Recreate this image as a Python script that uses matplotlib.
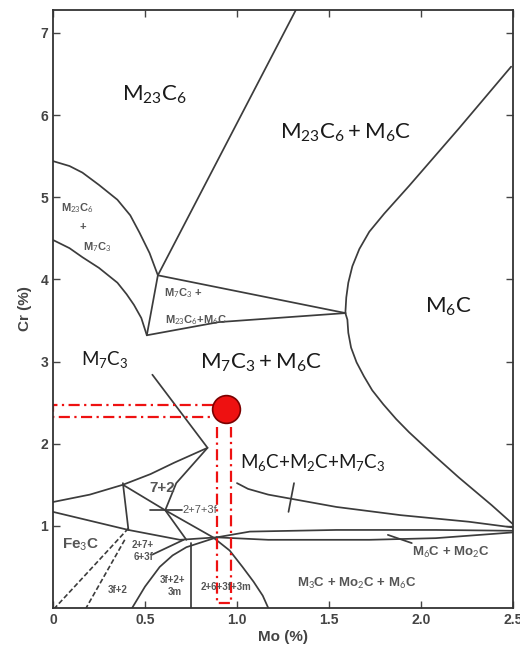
import numpy as np
import matplotlib.pyplot as plt

plt.rcParams['mathtext.fontset'] = 'custom'
plt.rcParams['mathtext.rm'] = 'Lato'
plt.rcParams['mathtext.it'] = 'Lato'

# phase boundaries, Mo (%) vs Cr (%)
a_mo = [0, 0.09, 0.16, 0.25, 0.35, 0.42, 0.47, 0.525, 0.57]
a_cr = [5.44, 5.38, 5.30, 5.15, 4.97, 4.78, 4.57, 4.32, 4.05]
b_mo = [0, 0.09, 0.16, 0.25, 0.35, 0.40, 0.44, 0.48, 0.51]
b_cr = [4.48, 4.38, 4.27, 4.14, 3.96, 3.82, 3.69, 3.53, 3.32]
c_mo = [0.51, 0.57, 1.32]
c_cr = [3.32, 4.05, 7.28]
d_mo = [0.57, 1.59]
d_cr = [4.05, 3.59]
e_mo = [0.51, 0.90, 1.59]
e_cr = [3.32, 3.48, 3.59]
m6c_mo = [2.49, 2.207, 1.936, 1.80, 1.719, 1.665, 1.627, 1.605, 1.594, 1.589,
          1.60, 1.605, 1.62, 1.65, 1.69, 1.735, 1.795, 1.865, 1.935, 2.07, 2.205, 2.385, 2.5]
m6c_cr = [6.59, 5.84, 5.14, 4.80, 4.58, 4.37, 4.16, 3.96, 3.78, 3.59,
          3.51, 3.35, 3.17, 2.99, 2.82, 2.65, 2.48, 2.30, 2.14, 1.86, 1.59, 1.25, 1.02]
f_mo = [0, 0.20, 0.38, 0.53, 0.66, 0.84]
f_cr = [1.29, 1.38, 1.50, 1.63, 1.77, 1.95]
g_mo = [0.54, 0.84, 0.67, 0.61, 0.725]
g_cr = [2.84, 1.95, 1.52, 1.19, 0.83]
h_mo = [0.38, 0.61, 0.87, 0.96, 1.03, 1.09, 1.14, 1.17]
h_cr = [1.50, 1.19, 0.86, 0.70, 0.50, 0.32, 0.15, 0]
i_mo = [0, 0.41, 0.69, 0.89]
i_cr = [1.17, 0.95, 0.83, 0.86]
j_mo = [1.0, 1.06, 1.17, 1.54, 1.89, 2.26, 2.5]
j_cr = [1.52, 1.45, 1.38, 1.23, 1.13, 1.05, 0.98]
lens_up_mo = [0.89, 1.07, 1.54, 2.08, 2.5]
lens_up_cr = [0.86, 0.93, 0.95, 0.95, 0.94]
lens_lo_mo = [0.89, 1.17, 1.72, 2.08, 2.5]
lens_lo_cr = [0.86, 0.83, 0.83, 0.85, 0.92]
o_mo = [0.43, 0.50, 0.58, 0.65, 0.725, 0.89]
o_cr = [0, 0.26, 0.50, 0.64, 0.74, 0.86]
short_lines = [
    ([0.75, 0.75], [0.79, 0]),
    ([0.54, 0.71], [0.65, 0.83]),
    ([0.525, 0.70], [1.19, 1.19]),
    ([1.31, 1.28], [1.52, 1.17]),
    ([1.82, 1.95], [0.89, 0.79]),
    ([0.38, 0.41], [1.52, 0.95]),
]
dashed_lines = [
    ([0.41, 0.01], [0.97, 0]),
    ([0.39, 0.18], [0.83, 0]),
]

# alloy point and its read-off guides
alloy_mo, alloy_cr = 0.94, 2.42
guide_h_mo = [0.87, 0, 0, 0.87]
guide_h_cr = [2.47, 2.47, 2.33, 2.33]
guide_v_mo = [0.893, 0.893, 0.969, 0.969]
guide_v_cr = [2.20, 0.06, 0.06, 2.20]

fig = plt.figure(figsize=(5.2, 6.47), dpi=100)
ax = fig.add_axes([0.1019, 0.0603, 0.8846, 0.9243])

lc = '#3c3c3c'
for xs, ys in [(a_mo, a_cr), (b_mo, b_cr), (c_mo, c_cr), (d_mo, d_cr), (e_mo, e_cr),
               (m6c_mo, m6c_cr), (f_mo, f_cr), (g_mo, g_cr), (h_mo, h_cr), (i_mo, i_cr),
               (j_mo, j_cr), (lens_up_mo, lens_up_cr), (lens_lo_mo, lens_lo_cr),
               (o_mo, o_cr)] + short_lines:
    ax.plot(xs, ys, color=lc, lw=1.25, solid_capstyle='round', solid_joinstyle='round')
for xs, ys in dashed_lines:
    ax.plot(xs, ys, color=lc, lw=1.2, dashes=(3, 1.5))

red = '#ee1111'
ax.plot(guide_h_mo, guide_h_cr, color=red, lw=1.6, dashes=(5, 2, 1, 2))
ax.plot(guide_v_mo, guide_v_cr, color=red, lw=1.6, dashes=(5, 2, 1, 2))
ax.plot(alloy_mo, alloy_cr, 'o', ms=20, mfc=red, mec='#7a0000', mew=1.2)

# region names
big = dict(ha='center', va='center', color='#1a1a1a', fontsize=16)
ax.text(0.55, 6.25, r'$\mathrm{M_{23}C_6}$', **big)
ax.text(1.59, 5.78, r'$\mathrm{M_{23}C_6 + M_6C}$', **big)
ax.text(2.15, 3.66, r'$\mathrm{M_6C}$', **big)
ax.text(0.28, 3.02, r'$\mathrm{M_7C_3}$', ha='center', va='center', color='#1a1a1a', fontsize=13.5)
ax.text(1.13, 2.98, r'$\mathrm{M_7C_3 + M_6C}$', **big)
ax.text(1.41, 1.77, r'$\mathrm{M_6C{+}M_2C{+}M_7C_3}$', ha='center', va='center',
        color='#1a1a1a', fontsize=13.5)

gray = dict(ha='center', va='center', color='#555555', family='Liberation Sans',
            fontweight='bold')
ax.text(0.135, 4.87, r'M$_{23}$C$_6$', fontsize=8, **gray)
ax.text(0.162, 4.64, '+', fontsize=8, **gray)
ax.text(0.24, 4.39, r'M$_7$C$_3$', fontsize=8, **gray)
ax.text(0.71, 3.83, r'M$_7$C$_3$ +', fontsize=8, **gray)
ax.text(0.78, 3.51, r'M$_{23}$C$_6$+M$_6$C', fontsize=8, **gray)
ax.text(0.595, 1.46, '7+2', fontsize=11, **gray)
ax.text(0.80, 1.19, '2+7+3f', fontsize=8, ha='center', va='center', color='#555555',
        family='Liberation Sans')
ax.text(0.15, 0.77, r'Fe$_3$C', fontsize=11, **gray)
ax.text(0.49, 0.77, '2+7+', fontsize=7, **gray)
ax.text(0.49, 0.62, '6+3f', fontsize=7, **gray)
ax.text(0.35, 0.22, '3f+2', fontsize=7, **gray)
ax.text(0.65, 0.34, '3f+2+', fontsize=7, **gray)
ax.text(0.66, 0.19, '3m', fontsize=7, **gray)
ax.text(0.94, 0.26, '2+6+3f+3m', fontsize=7, **gray)
ax.text(2.16, 0.67, r'M$_6$C + Mo$_2$C', fontsize=9.5, **gray)
ax.text(1.65, 0.30, r'M$_3$C + Mo$_2$C + M$_6$C', fontsize=9.5, **gray)

ax.set_xlim(0, 2.5)
ax.set_ylim(0, 7.28)
ax.set_xticks([0, 0.5, 1.0, 1.5, 2.0, 2.5])
ax.set_xticklabels(['0', '0.5', '1.0', '1.5', '2.0', '2.5'])
ax.set_yticks(range(1, 8))
ax.tick_params(direction='in', length=5, width=1, top=True, right=True, colors='#444444',
               labelsize=10)
for lab in ax.get_xticklabels() + ax.get_yticklabels():
    lab.set_fontweight('bold')
    lab.set_family('Liberation Sans')
for s in ax.spines.values():
    s.set_color('#333333')
    s.set_linewidth(1.3)
ax.set_xlabel('Mo (%)', fontsize=11, fontweight='bold', color='#444444',
              family='Liberation Sans', labelpad=2)
ax.set_ylabel('Cr (%)', fontsize=11, fontweight='bold', color='#444444',
              family='Liberation Sans', labelpad=6)

fig.savefig('out.png', dpi=100)
